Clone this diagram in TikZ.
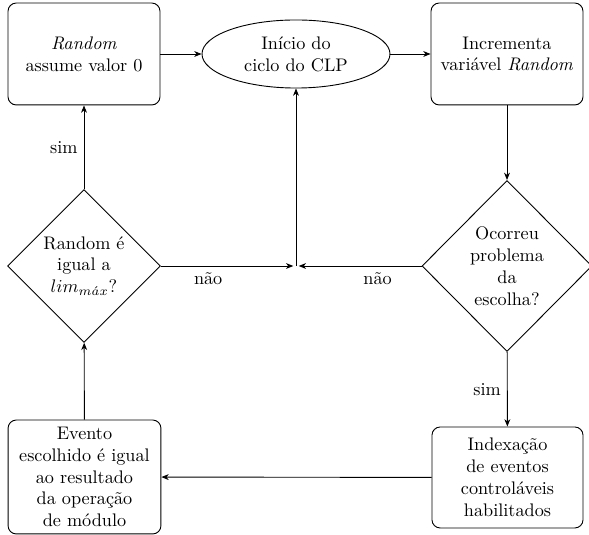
\documentclass[tikz,border=0pt]{standalone}
\usetikzlibrary{shapes.geometric,arrows.meta}
\begin{document}
\begin{tikzpicture}[x=0.5495pt,y=-0.5495pt, >={Stealth[length=4pt,width=3.2pt,inset=1.2pt]}, line width=0.5pt,
  box/.style={draw, rounded corners=4.5pt, align=center, inner sep=2pt},
  decision/.style={draw, diamond, align=center, inner sep=0pt},
  startnode/.style={draw, ellipse, align=center, inner sep=0pt}]
\useasboundingbox (0,0) rectangle (589,535);
\node[box, minimum width=83.5pt, minimum height=56pt] (A) at (84,54) {\textit{Random}\\assume valor 0};
\node[startnode, minimum width=103.3pt, minimum height=37.4pt] (B) at (296,54) {Início do\\ciclo do CLP};
\node[box, minimum width=83.5pt, minimum height=56pt] (C) at (507,54) {Incrementa\\variável \textit{Random}};
\node[decision, minimum width=93.4pt, minimum height=94pt] (D1) at (507,266) {Ocorreu\\problema\\da\\escolha?};
\node[decision, minimum width=84pt, minimum height=84pt] (D2) at (84,266) {Random é\\igual a\\$lim_{m\acute{a}x}$?};
\node[box, minimum width=84pt, minimum height=62.6pt] (E) at (84.5,477) {Evento\\escolhido é igual\\ao resultado\\da operação\\de módulo};
\node[box, minimum width=83pt, minimum height=55.5pt] (F) at (507.5,477.5) {Indexação\\de eventos\\controláveis\\habilitados};
\coordinate (J) at (B.south |- D2.east);
\draw[->] (A) -- (B);
\draw[->] (B) -- (C);
\draw[->] (C) -- (D1);
\draw[->] (D1) -- node[left] {sim} (F);
\draw[->] (F) -- (E);
\draw[->] (E) -- (D2);
\draw[->] (D2) -- node[left] {sim} (A);
\draw[->, shorten >=1.5pt] (D2) -- node[pos=0.35, below] {não} (J);
\draw[->, shorten >=1.5pt] (D1) -- node[pos=0.35, below] {não} (J);
\draw[->] (J) -- (B);
\end{tikzpicture}
\end{document}
